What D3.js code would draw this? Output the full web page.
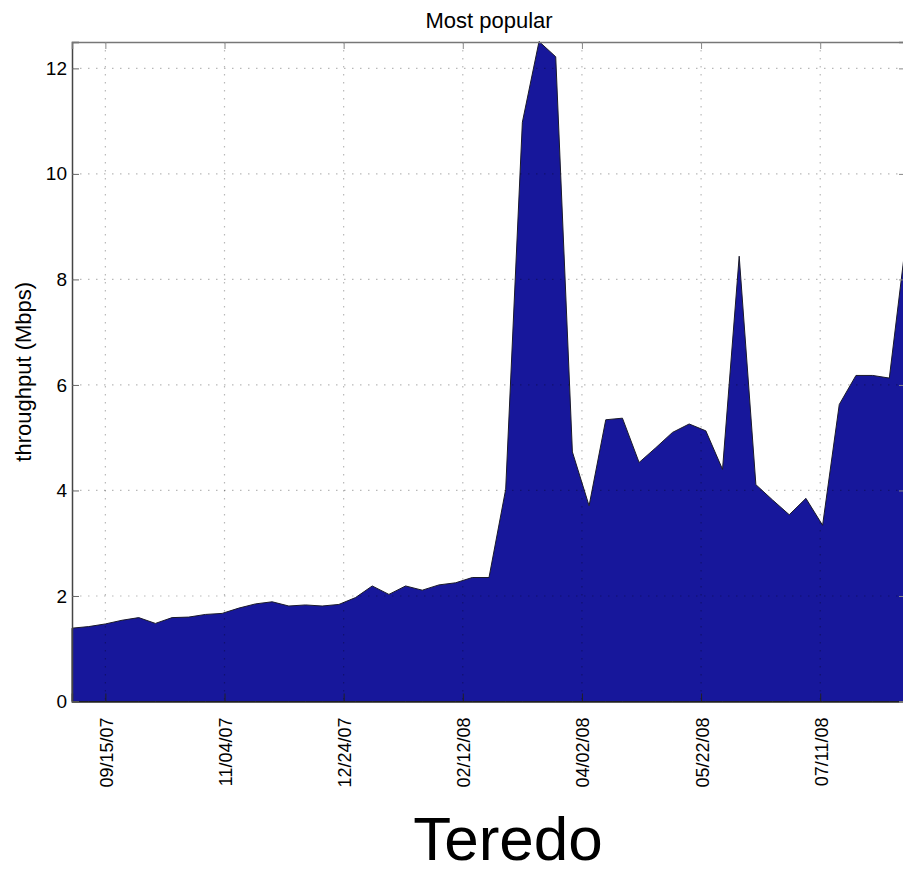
<!DOCTYPE html>
<html>
<head>
<meta charset="utf-8">
<script src="https://cdn.jsdelivr.net/npm/d3@7"></script>
<style>
  body { margin: 0; background: #fff; }
  text { font-family: "Liberation Sans", Arial, sans-serif; fill: #000; }
</style>
</head>
<body>
<script>
// weekly samples
var dates = ["2007-09-01","2007-09-08","2007-09-15","2007-09-22","2007-09-29",
  "2007-10-06","2007-10-13","2007-10-20","2007-10-27","2007-11-03",
  "2007-11-10","2007-11-17","2007-11-24","2007-12-01","2007-12-08",
  "2007-12-15","2007-12-22","2007-12-29","2008-01-05","2008-01-12",
  "2008-01-19","2008-01-26","2008-02-02","2008-02-09","2008-02-16",
  "2008-02-23","2008-03-01","2008-03-08","2008-03-15","2008-03-22",
  "2008-03-29","2008-04-05","2008-04-12","2008-04-19","2008-04-26",
  "2008-05-03","2008-05-10","2008-05-17","2008-05-24","2008-05-31",
  "2008-06-07","2008-06-14","2008-06-21","2008-06-28","2008-07-05",
  "2008-07-12","2008-07-19","2008-07-26","2008-08-02","2008-08-09",
  "2008-08-16"];

var throughput = [1.39,1.42,1.47,1.54,1.59,
  1.48,1.59,1.60,1.65,1.67,
  1.77,1.85,1.89,1.81,1.83,
  1.81,1.84,1.97,2.19,2.03,
  2.19,2.11,2.21,2.25,2.35,
  2.35,4.02,10.98,12.51,12.22,
  4.73,3.71,5.34,5.37,4.53,
  4.81,5.10,5.26,5.13,4.40,
  8.44,4.11,3.82,3.54,3.85,
  3.34,5.63,6.18,6.18,6.13,
  8.74];

var xTickDates = ["2007-09-15","2007-11-04","2007-12-24","2008-02-12","2008-04-02","2008-05-22","2008-07-11"];
var yTicks = [0,2,4,6,8,10,12];

var titleText = "Most popular";
var yLabel = "throughput (Mbps)";
var caption = "Teredo";

var W = 903, H = 873;
var plot = {left: 72, right: 906, top: 42, bottom: 701.5};

var parse = d3.timeParse("%Y-%m-%d");
var data = dates.map(function(d, i){ return {date: parse(d), value: throughput[i]}; });
var tickDates = xTickDates.map(parse);

var svg = d3.select("body").append("svg")
    .attr("width", W)
    .attr("height", H);

var x = d3.scaleTime()
    .domain(d3.extent(data, function(d){ return d.date; }))
    .range([plot.left, plot.right]);

var y = d3.scaleLinear()
    .domain([0, 12.5])
    .range([plot.bottom, plot.top]);

//filled area
var area = d3.area()
    .x(function(d){ return x(d.date); })
    .y0(y(0))
    .y1(function(d){ return y(d.value); });

svg.append("path")
    .datum(data)
    .attr("d", area)
    .style("fill", "#17179b")
    .style("stroke", "#1a1a2a")
    .style("stroke-width", 1);

//dotted grid on top (matlab style)
var grid = svg.append("g").attr("class", "grid");
grid.selectAll("line.gx")
    .data(tickDates)
    .enter().append("line")
    .attr("x1", function(d){ return x(d); })
    .attr("x2", function(d){ return x(d); })
    .attr("y1", plot.top)
    .attr("y2", plot.bottom)
    .style("stroke", "rgba(0,0,0,0.28)")
    .style("stroke-width", 1.2)
    .style("stroke-dasharray", "1.5,6.5");
grid.selectAll("line.gy")
    .data(yTicks.slice(1))
    .enter().append("line")
    .attr("x1", plot.left)
    .attr("x2", plot.right)
    .attr("y1", function(d){ return y(d); })
    .attr("y2", function(d){ return y(d); })
    .style("stroke", "rgba(0,0,0,0.28)")
    .style("stroke-width", 1.2)
    .style("stroke-dasharray", "1.5,6.5");

//axes
var xAxis = d3.axisBottom(x)
    .tickValues(tickDates)
    .tickSize(-8)
    .tickFormat(d3.timeFormat("%m/%d/%y"));
var gx = svg.append("g")
    .attr("transform", "translate(0," + plot.bottom + ")")
    .call(xAxis);
gx.select(".domain").style("stroke", "#222").style("stroke-width", 1.5);
gx.selectAll(".tick line").style("stroke", "#222").style("stroke-width", 1);
gx.selectAll(".tick text")
    .style("font-size", "18px")
    .attr("text-anchor", "end")
    .attr("transform", "translate(7,16) rotate(-90)")
    .attr("x", 0)
    .attr("y", 0)
    .attr("dy", 0);

var yAxis = d3.axisLeft(y)
    .tickValues(yTicks)
    .tickSize(-7)
    .tickPadding(5)
    .tickFormat(d3.format("d"));
var gy = svg.append("g")
    .attr("transform", "translate(" + plot.left + ",0)")
    .call(yAxis);
gy.select(".domain").style("stroke", "#444").style("stroke-width", 1.5);
gy.selectAll(".tick line").style("stroke", "#666").style("stroke-width", 1);
gy.selectAll(".tick text").style("font-size", "19px");

//top and right border with inward ticks
var gt = svg.append("g")
    .attr("transform", "translate(0," + plot.top + ")")
    .call(d3.axisTop(x).tickValues(tickDates).tickSize(-7).tickFormat(""));
gt.select(".domain").style("stroke", "#777").style("stroke-width", 1.5);
gt.selectAll(".tick line").style("stroke", "#888");

var gr = svg.append("g")
    .attr("transform", "translate(" + plot.right + ",0)")
    .call(d3.axisRight(y).tickValues(yTicks).tickSize(-7).tickFormat(""));
gr.select(".domain").style("stroke", "#777").style("stroke-width", 1.5);
gr.selectAll(".tick line").style("stroke", "#888");

//labels
svg.append("text")
    .attr("x", (plot.left + plot.right) / 2)
    .attr("y", 28)
    .attr("text-anchor", "middle")
    .style("font-size", "22px")
    .text(titleText);

svg.append("text")
    .attr("transform", "translate(31," + ((plot.top + plot.bottom) / 2) + ") rotate(-90)")
    .attr("text-anchor", "middle")
    .style("font-size", "22px")
    .text(yLabel);

svg.append("text")
    .attr("x", 508)
    .attr("y", 860)
    .attr("text-anchor", "middle")
    .style("font-size", "62px")
    .text(caption);
</script>
</body>
</html>
